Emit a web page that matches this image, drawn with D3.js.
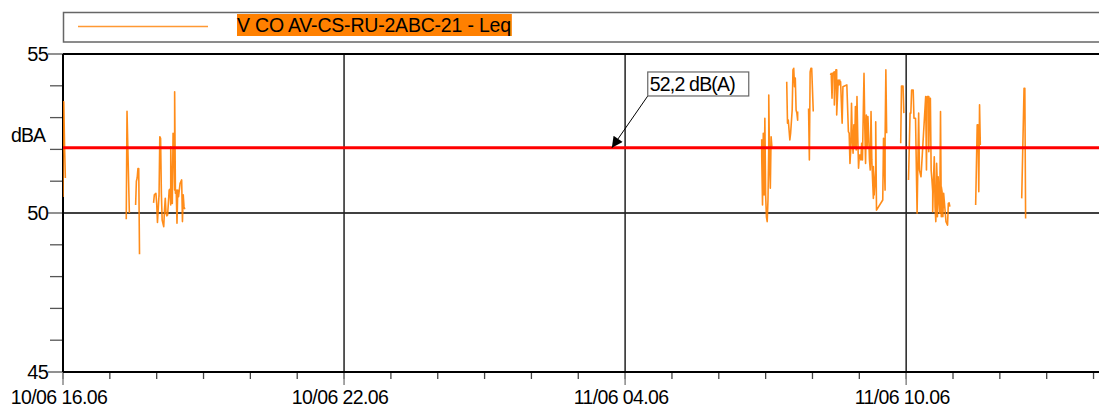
<!DOCTYPE html>
<html>
<head>
<meta charset="utf-8">
<script src="https://cdn.jsdelivr.net/npm/d3@7"></script>
<style>
  body { margin: 0; background: #fff; }
  svg { display: block; font-family: "Liberation Sans", Arial, sans-serif; }
</style>
</head>
<body>
<svg id="chart" width="1099" height="407"></svg>
<script>
// series: minutes after 10/06 16.06, null = no data
const leqMinutes = [
  0, 0.5, 1.3, 2.5, 3.8, null,
  81.6, 82.9, 83.7, 85.8, null,
  93.5, 94.4, 95.7, 96.5, 97.4, 98.3, null,
  116.6, 117.9, 119.1, 120.0, 121.3, 123.0, 123.9, 124.7, 125.5, 126.4, 127.7, 129.0, 130.3,
  131.6, 132.3, 133.2, 134.9, 136.2, 137.1, 138.0, 138.7, 139.6, 140.5, 141.3, 142.2, 143.1,
  143.9, 144.8, 145.7, 146.4, 147.3, 148.2, 150.8, 152.1, 153.3, 154.1, 155.4, 156.3, null,
  895.0, 895.8, 896.7, 897.6, 898.4, 899.6, 900.5, 901.4, 902.2, 903.1, 904.0, 904.8, 905.7,
  906.5, 907.3, 908.2, null,
  927.1, 928.3, 929.1, 930.4, 931.7, 932.6, 934.2, 935.5, 936.4, 937.3, 938.1, 939.0, 940.3,
  941.2, 941.9, null,
  955.6, 956.5, 957.3, 958.2, 959.1, 959.8, 961.1, null,
  983.8, 984.7, 985.5, 986.8, 988.0, 988.9, 990.2, 991.1, 991.9, 993.2, 994.1, 995.0, 995.7,
  996.6, 998.3, 999.6, 1004.7, 1006.0, 1007.3, 1008.5, 1009.4, 1010.3, 1011.1, 1012.4, 1013.7,
  1014.6, 1015.5, 1016.3, 1017.5, 1018.4, 1019.3, 1020.1, 1021.3, 1022.2, 1023.1, 1024.4,
  1025.7, 1026.5, 1027.4, 1028.3, 1029.0, 1030.3, 1031.6, 1032.5, 1033.4, 1034.7, 1035.4,
  1036.3, 1037.2, 1038.0, 1038.9, 1039.8, 1041.1, 1041.8, 1042.7, 1050.8, 1051.7, 1053.0,
  1053.9, 1054.6, 1055.5, null,
  1073.5, 1074.8, 1076.1, 1077.4, null,
  1083.7, 1085.0, 1086.3, 1087.9, 1089.2, 1090.1, 1092.3, 1094.9, 1096.2, 1096.9, 1097.8,
  1099.1, 1105.1, 1106.4, 1107.2, 1109.0, 1109.8, 1110.7, 1111.6, 1112.3, 1113.2, 1114.1,
  1114.9, 1115.8, 1116.7, 1117.4, 1118.3, 1119.2, 1120.0, 1120.9, 1121.7, 1122.5, 1123.4,
  1124.3, 1125.0, 1125.9, 1126.8, 1127.6, 1128.4, 1131.9, 1133.2, 1134.5, 1135.3, 1136.2, null,
  1169.6, 1171.3, 1172.6, 1173.9, 1174.7, 1175.6, null,
  1228.9, 1231.4, 1232.3, 1233.6
];
const leqValues = [
  50.5, 53.5, 53.5, 52.1, 51.1, null,
  49.8, 53.2, 52.1, 50.0, null,
  50.25, 51.0, 51.1, 51.4, 51.4, 48.7, null,
  50.32, 50.57, 50.62, 50.30, 49.70, 50.57, 50.51, 52.40, 52.35, 50.62, 49.78, 49.57, 50.09,
  50.46, 49.99, 49.91, 49.94, 50.72, 50.75, 50.25, 52.08, 50.72, 50.30, 52.51, 52.40, 50.72,
  53.81, 50.62, 50.72, 49.68, 50.72, 50.51, 50.93, 51.04, 49.73, 50.57, 50.20, 50.12, null,
  52.32, 51.77, 50.25, 52.51, 50.57, 52.98, 50.57, 49.88, 49.73, 50.41, 52.08, 53.71, 51.67,
  50.78, 52.40, 52.08, null,
  54.13, 52.82, 52.92, 52.61, 52.30, 52.51, 53.24, 54.50, 54.55, 53.97, 54.24, 53.24, 53.14,
  52.92, 53.19, null,
  53.29, 51.67, 54.44, 54.55, 54.44, 54.55, 53.19, null,
  54.34, 54.39, 53.61, 54.39, 54.44, 53.40, 54.50, 54.50, 53.08, 54.18, 54.03, 54.18, 54.08,
  54.13, 52.82, 53.97, 54.03, 52.56, 52.51, 51.56, 51.98, 53.45, 52.30, 51.88, 52.77,
  52.08, 53.35, 51.98, 53.66, 52.40, 51.41, 51.82, 51.82, 51.67, 52.19, 51.67,
  53.08, 54.39, 52.71, 51.56, 53.08, 52.08, 53.03, 52.40, 51.67, 51.35, 53.19,
  51.67, 51.04, 50.46, 51.46, 50.57, 51.35, 52.87, 50.09, 50.41, 52.35, 50.72,
  52.30, 54.50, 52.51, null,
  52.19, 53.99, 53.99, 53.14, null,
  51.04, 53.14, 53.14, 53.87, 53.87, 52.98, 52.98, 49.99, 53.14, 53.08, 51.35,
  51.14, 53.66, 51.35, 53.66, 53.66, 51.93, 53.61, 53.61, 51.35, 51.04, 50.67,
  50.04, 51.04, 51.77, 50.20, 49.73, 51.56, 50.83, 49.88, 51.14, 50.46, 49.99,
  53.19, 49.88, 50.83, 50.67, 49.88, 50.62, 49.73, 49.62, 50.30, 50.32, 50.20, null,
  50.25, 52.77, 52.77, 50.67, 53.40, 52.14, null,
  50.46, 53.92, 53.92, 49.83
];

const seriesName = "V CO AV-CS-RU-2ABC-21 - Leq";
const yTicksMajor = [45, 50, 55];
const yTicksMinor = [46, 47, 48, 49, 51, 52, 53, 54];
const majorTickHours = [0, 6, 12, 18];
const avgLevel = 52.05;
const avgLabel = "52,2 dB(A)";
const avgArrowMin = 703;       // where the callout arrow hits the line
const avgBoxMin = 749;
const avgBoxDb = 53.68;

const startTime = new Date(2021, 5, 10, 16, 6);
const endTime = d3.timeMinute.offset(startTime, 1327);
const minToDate = m => d3.timeMinute.offset(startTime, m);
const fmt = d3.timeFormat("%d/%m %H.%M");

const orange = "#ff8000";
const svg = d3.select("#chart");
const pLeft = 63, pRight = 1099, pTop = 54, pBottom = 372;

const x = d3.scaleTime().domain([startTime, endTime]).range([pLeft, pRight]);
const y = d3.scaleLinear().domain([45, 55]).range([pBottom, pTop]);

// legend
const legend = svg.append("g");
legend.append("rect")
  .attr("x", 63.5).attr("y", 12.5)
  .attr("width", 1050).attr("height", 29.5)
  .attr("fill", "#fff")
  .attr("stroke", "#666").attr("stroke-width", 1.5);
legend.append("line")
  .attr("x1", 78).attr("x2", 208)
  .attr("y1", 26.5).attr("y2", 26.5)
  .attr("stroke", orange).attr("stroke-opacity", 0.8).attr("stroke-width", 1.5);
const legText = legend.append("text")
  .attr("x", 237).attr("y", 32)
  .attr("font-size", 19.5).attr("letter-spacing", -0.2)
  .attr("fill", "#000")
  .text(seriesName);
const bb = legText.node().getBBox();
legend.insert("rect", "text")
  .attr("x", bb.x).attr("y", 14)
  .attr("width", bb.width + 1).attr("height", 22)
  .attr("fill", orange);

// horizontal grid at 50
svg.append("line")
  .attr("x1", pLeft).attr("x2", pRight)
  .attr("y1", y(50)).attr("y2", y(50))
  .attr("stroke", "#000").attr("stroke-width", 1.3);

// vertical grid at major ticks
const majorDates = majorTickHours.map(h => d3.timeHour.offset(startTime, h));
svg.selectAll(".vgrid")
  .data(majorDates.slice(1))
  .join("line")
  .attr("class", "vgrid")
  .attr("x1", d => x(d)).attr("x2", d => x(d))
  .attr("y1", pTop).attr("y2", pBottom)
  .attr("stroke", "#222").attr("stroke-width", 1.5);

// y ticks
svg.selectAll(".ytmin")
  .data(yTicksMinor)
  .join("line")
  .attr("class", "ytmin")
  .attr("x1", 50).attr("x2", pLeft)
  .attr("y1", d => y(d)).attr("y2", d => y(d))
  .attr("stroke", "#555").attr("stroke-width", 1.3);
svg.selectAll(".ytmaj")
  .data(yTicksMajor)
  .join("line")
  .attr("class", "ytmaj")
  .attr("x1", 48).attr("x2", pLeft)
  .attr("y1", d => y(d)).attr("y2", d => y(d))
  .attr("stroke", "#555").attr("stroke-width", 1.3);
svg.selectAll(".ylab")
  .data(yTicksMajor)
  .join("text")
  .attr("class", "ylab")
  .attr("x", 48).attr("y", d => y(d) + 7)
  .attr("text-anchor", "end")
  .attr("font-size", 20).attr("letter-spacing", -0.8)
  .text(d => d);
svg.append("text")
  .attr("x", 11).attr("y", 142)
  .attr("font-size", 19.5).attr("letter-spacing", -0.9)
  .text("dBA");

// x ticks
const hourDates = d3.range(0, 23).map(h => d3.timeHour.offset(startTime, h))
  .filter(d => d <= endTime);
svg.selectAll(".xtmin")
  .data(hourDates)
  .join("line")
  .attr("class", "xtmin")
  .attr("x1", d => x(d)).attr("x2", d => x(d))
  .attr("y1", pBottom).attr("y2", pBottom + 7)
  .attr("stroke", "#444").attr("stroke-width", 1.3);
svg.selectAll(".xtmaj")
  .data(majorDates)
  .join("line")
  .attr("class", "xtmaj")
  .attr("x1", d => x(d)).attr("x2", d => x(d))
  .attr("y1", pBottom).attr("y2", pBottom + 13)
  .attr("stroke", "#888").attr("stroke-width", 1.5);
svg.selectAll(".xlab")
  .data(majorDates)
  .join("text")
  .attr("class", "xlab")
  .attr("x", d => x(d) - 4).attr("y", 404)
  .attr("text-anchor", "middle")
  .attr("font-size", 19.5).attr("letter-spacing", -0.6)
  .text(d => fmt(d));

// axes frame
svg.append("line").attr("x1", pLeft).attr("x2", pRight).attr("y1", pTop).attr("y2", pTop)
  .attr("stroke", "#000").attr("stroke-width", 2);
svg.append("line").attr("x1", pLeft).attr("x2", pRight).attr("y1", pBottom).attr("y2", pBottom)
  .attr("stroke", "#000").attr("stroke-width", 2);
svg.append("line").attr("x1", pLeft).attr("x2", pLeft).attr("y1", pTop).attr("y2", pBottom)
  .attr("stroke", "#000").attr("stroke-width", 2);

// series
svg.append("clipPath").attr("id", "plot")
  .append("rect").attr("x", pLeft).attr("y", pTop).attr("width", pRight - pLeft).attr("height", pBottom - pTop);
const pts = leqMinutes.map((m, i) => [m, leqValues[i]]);
const line = d3.line()
  .defined(d => d[0] !== null && d[1] !== null)
  .x(d => x(minToDate(d[0])))
  .y(d => y(d[1]));
svg.append("path")
  .attr("clip-path", "url(#plot)")
  .attr("d", line(pts))
  .attr("fill", "none")
  .attr("stroke", orange).attr("stroke-opacity", 0.9)
  .attr("stroke-width", 1.6).attr("stroke-linejoin", "round");

// average line
svg.append("line")
  .attr("x1", pLeft).attr("x2", pRight)
  .attr("y1", y(avgLevel)).attr("y2", y(avgLevel))
  .attr("stroke", "#ff0000").attr("stroke-width", 3);

// callout
svg.append("defs").append("marker")
  .attr("id", "arrow")
  .attr("viewBox", "0 0 10 10")
  .attr("refX", 10).attr("refY", 5)
  .attr("markerWidth", 16).attr("markerHeight", 11)
  .attr("markerUnits", "userSpaceOnUse")
  .attr("orient", "auto")
  .append("path").attr("d", "M0,0L10,5L0,10z").attr("fill", "#000");
const bx = x(minToDate(avgBoxMin)), by = y(avgBoxDb);
svg.append("line")
  .attr("x1", bx).attr("y1", by)
  .attr("x2", x(minToDate(avgArrowMin))).attr("y2", y(avgLevel))
  .attr("stroke", "#000").attr("stroke-width", 1)
  .attr("marker-end", "url(#arrow)");
svg.append("rect")
  .attr("x", bx).attr("y", by - 24)
  .attr("width", 101).attr("height", 24)
  .attr("fill", "#fff").attr("stroke", "#666").attr("stroke-width", 1.2);
svg.append("text")
  .attr("x", bx + 2).attr("y", by - 5)
  .attr("font-size", 19.5).attr("letter-spacing", -0.8)
  .text(avgLabel);
</script>
</body>
</html>
